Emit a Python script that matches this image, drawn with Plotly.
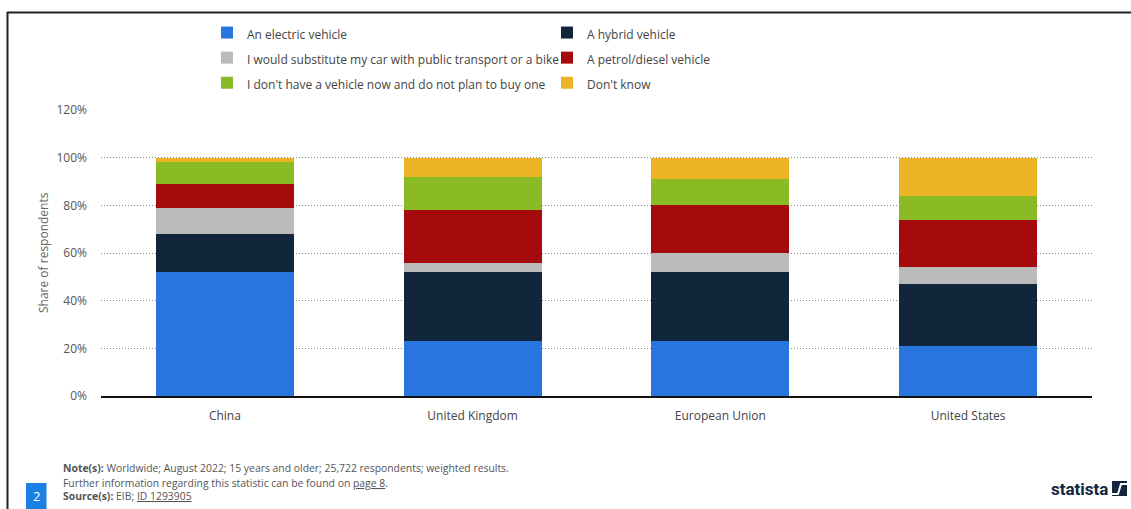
import plotly.graph_objects as go

categories = ["China", "United Kingdom", "European Union", "United States"]
series_names = [
    "An electric vehicle",
    "A hybrid vehicle",
    "I would substitute my car with public transport or a bike",
    "A petrol/diesel vehicle",
    "I don't have a vehicle now and do not plan to buy one",
    "Don't know",
]
electric = [52, 23, 23, 21]
hybrid = [16, 29, 29, 26]
substitute = [11, 4, 8, 7]
petrol = [10, 22, 20, 20]
no_vehicle = [9, 14, 11, 10]
dont_know = [2, 8, 9, 16]
y_ticks = [0, 20, 40, 60, 80, 100, 120]

series_values = [electric, hybrid, substitute, petrol, no_vehicle, dont_know]
colors = ["#2876DD", "#12263B", "#BBBBBB", "#A50B0C", "#8ABB24", "#ECB324"]

W, H = 1131, 509
L, R, T, B = 101, 39, 110, 113
PW, PH = W - L - R, H - T - B

def px(x):
    return (x - L) / PW

def py(y):
    return (H - B - y) / PH

FONT = "Open Sans"

fig = go.Figure()
for name, vals, col in zip(series_names, series_values, colors):
    fig.add_trace(go.Bar(
        x=categories, y=vals,
        name=f'<span style="font-size:12px">{name}</span>',
        marker=dict(color=col, line=dict(width=0)),
    ))

fig.update_layout(
    width=W, height=H,
    margin=dict(l=L, r=R, t=T, b=B),
    barmode="stack",
    bargap=0.443,
    plot_bgcolor="white",
    paper_bgcolor="white",
    font=dict(family=FONT, size=12, color="#555"),
    showlegend=True,
    legend=dict(
        orientation="h",
        x=px(207), xanchor="left",
        y=py(15), yanchor="top",
        entrywidth=295, entrywidthmode="pixels",
        font=dict(family=FONT, size=17, color="#444"),
        traceorder="normal",
        bgcolor="rgba(0,0,0,0)",
        itemclick=False, itemdoubleclick=False,
    ),
    xaxis=dict(
        showgrid=False, showline=True, linecolor="#111", linewidth=2,
        ticks="", tickfont=dict(family=FONT, size=12, color="#444"),
        ticklabelstandoff=8,
    ),
    yaxis=dict(
        range=[0, 120], tickvals=y_ticks, ticktext=[f"{v}%" for v in y_ticks],
        showgrid=True, gridcolor="#8a8a8a", griddash="1px,2px", gridwidth=1,
        zeroline=False, showline=False, ticks="",
        tickfont=dict(family=FONT, size=12, color="#555"),
        ticklabelstandoff=13,
    ),
)

annotations = [
    dict(text="Share of respondents", x=px(43), y=0.5, xref="paper", yref="paper",
         textangle=-90, showarrow=False, font=dict(family=FONT, size=12, color="#666"),
         xanchor="center", yanchor="middle"),
    dict(text="<b>Note(s):</b> Worldwide; August 2022; 15 years and older; 25,722 respondents; weighted results.",
         x=px(61), y=py(468), xref="paper", yref="paper", showarrow=False,
         xanchor="left", yanchor="middle", font=dict(family=FONT, size=10.4, color="#555")),
    dict(text="Further information regarding this statistic can be found on <u>page 8</u>.",
         x=px(61), y=py(483), xref="paper", yref="paper", showarrow=False,
         xanchor="left", yanchor="middle", font=dict(family=FONT, size=10.4, color="#555")),
    dict(text="<b>Source(s):</b> EIB; <u>ID 1293905</u>",
         x=px(61), y=py(496), xref="paper", yref="paper", showarrow=False,
         xanchor="left", yanchor="middle", font=dict(family=FONT, size=10.4, color="#555")),
    dict(text="2", x=px(36.5), y=py(496), xref="paper", yref="paper", showarrow=False,
         xanchor="center", yanchor="middle", font=dict(family=FONT, size=13, color="white")),
    dict(text="<b>statista</b>", x=px(1110), y=py(489), xref="paper", yref="paper", showarrow=False,
         xanchor="right", yanchor="middle", font=dict(family="Roboto", size=17, color="#13263d")),
]
fig.update_layout(annotations=annotations)

shapes = [
    dict(type="line", xref="paper", yref="paper", x0=px(7.5), x1=px(7.5), y0=py(12), y1=py(509),
         line=dict(color="#222", width=2)),
    dict(type="line", xref="paper", yref="paper", x0=px(7), x1=px(1131), y0=py(12.5), y1=py(12.5),
         line=dict(color="#222", width=2)),
    dict(type="rect", xref="paper", yref="paper", x0=px(26), x1=px(46.5), y0=py(483), y1=py(509),
         fillcolor="#1B80E4", line=dict(width=0)),
    dict(type="rect", xref="paper", yref="paper", x0=px(1112), x1=px(1127), y0=py(481), y1=py(496),
         fillcolor="#13263d", line=dict(width=0)),
    dict(type="path", xref="paper", yref="paper",
         path=f"M {px(1112)},{py(494)} L {px(1118)},{py(494)} L {px(1121)},{py(484)} L {px(1127)},{py(484)}",
         line=dict(color="white", width=2)),
]
fig.update_layout(shapes=shapes)

fig.write_html("out.html")
